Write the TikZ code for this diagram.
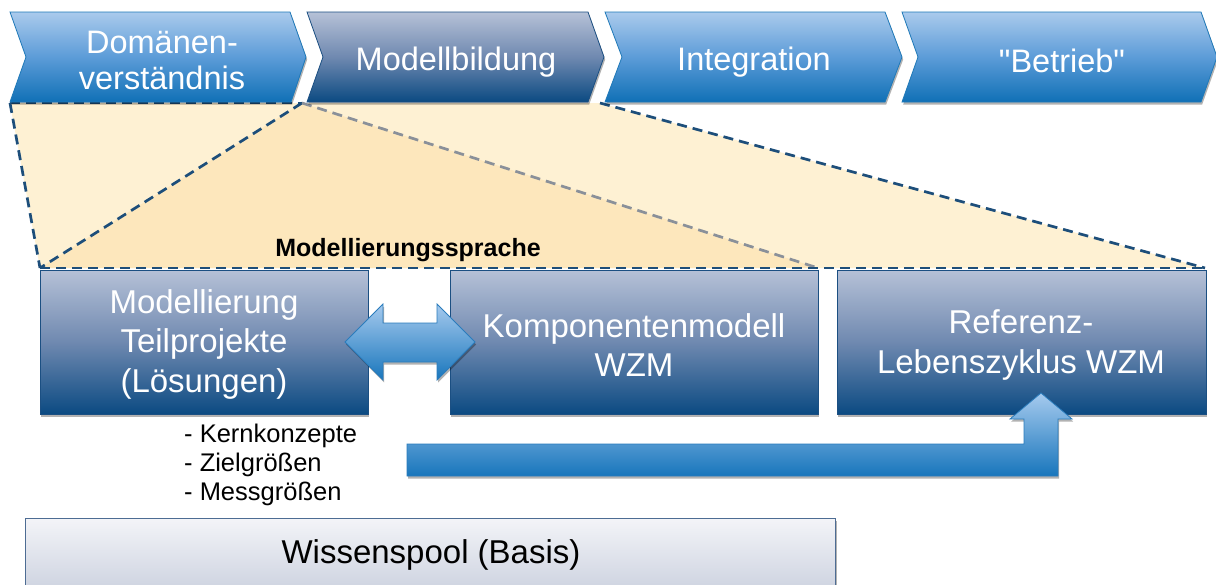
\documentclass[tikz,border=0pt]{standalone}
\usepackage{fontspec}
\setmainfont{Liberation Sans}
\newfontfamily\nomapfont{Liberation Sans}
\usetikzlibrary{shadows}
\definecolor{chevTop}{HTML}{AACAEC}
\definecolor{chevMid}{HTML}{5C9CD8}
\definecolor{chevBot}{HTML}{1070B6}
\definecolor{chevLine}{HTML}{1F79B8}
\definecolor{darkTop}{HTML}{B6C1D7}
\definecolor{darkMid}{HTML}{6F89B0}
\definecolor{darkBot}{HTML}{0B4A82}
\definecolor{darkLine}{HTML}{1B4F82}
\definecolor{yelLight}{HTML}{FEF1D3}
\definecolor{yelDark}{HTML}{FDE7BC}
\definecolor{dashBlue}{HTML}{1D4E7A}
\definecolor{dashGray}{HTML}{8A9099}
\definecolor{arrTop}{HTML}{A6CAEE}
\definecolor{arrBot}{HTML}{1876BC}
\definecolor{arrLine}{HTML}{2A7CBC}
\definecolor{wpTop}{HTML}{F3F4F8}
\definecolor{wpBot}{HTML}{C9CFDD}
\definecolor{wpLine}{HTML}{4D6C93}
\tikzset{
  shad/.style={drop shadow={shadow xshift=1.2pt, shadow yshift=-2.5pt, opacity=0.3, fill=black}},
  chevlight/.style={top color=chevTop, bottom color=chevBot, middle color=chevMid, draw=chevLine, line width=0.8pt, shad},
  chevdark/.style={top color=darkTop, bottom color=darkBot, middle color=darkMid, draw=darkLine, line width=0.8pt, shad},
  chevtext/.style={text=white, font=\fontsize{32.5}{36}\selectfont, align=center, inner sep=0pt},
  boxdark/.style={rectangle, top color=darkTop, bottom color=darkBot, middle color=darkMid, draw=darkLine, line width=0.8pt, shad},
  boxtext/.style={text=white, font=\fontsize{33}{39.5}\selectfont, align=center, inner sep=0pt},
  dashb/.style={draw=dashBlue, line width=2.7pt, dash pattern=on 10pt off 6pt},
  dashg/.style={draw=dashGray, line width=2.7pt, dash pattern=on 10pt off 6pt},
  blockarrow/.style={top color=arrTop, bottom color=arrBot, draw=arrLine, line width=0.8pt, shad},
  listtext/.style={text=black, font=\fontsize{25.5}{29}\selectfont, align=left, inner sep=0pt},
}
\begin{document}
\begin{tikzpicture}[x=1pt,y=-1pt]
\useasboundingbox (0,0) rectangle (1216,584);
\clip (0,0) rectangle (1216,584);
\fill[white] (0,0) rectangle (1216,584);

% callout coordinates
\coordinate (cA) at (10,103);
\coordinate (cB) at (302,103);
\coordinate (cC) at (600,103);
\coordinate (cD) at (1205,268);
\coordinate (cE) at (818,268);
\coordinate (cF) at (40,268);

% yellow zoom region
\fill[yelLight] (cA) -- (cC) -- (cD) -- (cF) -- cycle;
\fill[yelDark] (cB) -- (cE) -- (cF) -- cycle;
\draw[dashb] (cA) -- (cB);
\draw[dashb] (cA) -- (cF);
\draw[dashb] (cB) -- (cF);
\draw[dashg] (cB) -- (cE);
\draw[dashb] (cC) -- (cD);
\draw[dashb] (cF) -- (cD);

% chevrons
\path[chevlight] (10,12) -- (290,12) -- (306,57) -- (291,102) -- (10,102) -- (26,57) -- cycle;
\path[chevdark]  (307,12) -- (588,12) -- (604,57) -- (588,102) -- (307,102) -- (323,57) -- cycle;
\path[chevlight] (605,12) -- (885,12) -- (902,57) -- (885,102) -- (605,102) -- (622,57) -- cycle;
\path[chevlight] (902,12) -- (1201,12) -- (1217,57) -- (1201,102) -- (902,102) -- (918,57) -- cycle;
\node (t1) [chevtext] at (162,60) {Domänen-\\verständnis};
\node (t2) [chevtext] at (456,62) {Modellbildung};
\node (t3) [chevtext] at (754,62) {Integration};
\node (t4) [chevtext] at (1062,61) {\nomapfont "Betrieb"};

% label
\node (ms) [text=black, font=\bfseries\fontsize{25}{28}\selectfont, inner sep=0pt] at (408,250) {Modellierungssprache};

% boxes
\node (b1) [boxdark, minimum width=328pt, minimum height=144pt] at (204,342) {};
\node (b2) [boxdark, minimum width=368pt, minimum height=144pt] at (634,342) {};
\node (b3) [boxdark, minimum width=369pt, minimum height=144pt] at (1021.5,342) {};
\node (b1t) [boxtext] at (204,344) {Modellierung\\Teilprojekte\\(Lösungen)};
\node (b2t) [boxtext] at (634,345) {Komponentenmodell\\WZM};
\node (b3t) [boxtext] at (1021,345) {Referenz-\\Lebenszyklus WZM};

% double arrow between b1 and b2
\path[blockarrow] (345,342) -- (383,304) -- (383,323) -- (437,323) -- (437,304) -- (475,342)
   -- (437,380) -- (437,362) -- (383,362) -- (383,380) -- cycle;

% bent arrow to b3
\path[blockarrow] (407,444) -- (1024,444) -- (1024,419) -- (1010,419) -- (1041,393) -- (1072,419)
   -- (1058,419) -- (1058,476) -- (407,476) -- cycle;

% list
\node (list) [listtext, anchor=west] at (184,465) {- Kernkonzepte\\- Zielgrößen\\- Messgrößen};

% knowledge pool
\node (wp) [rectangle, top color=wpTop, bottom color=wpBot, draw=wpLine, line width=1pt, anchor=north west,
   minimum width=810pt, minimum height=80pt, shad] at (25,518) {};
\node (wpt) [text=black, font=\fontsize{33}{38}\selectfont, inner sep=0pt] at (431,555) {Wissenspool (Basis)};
\end{tikzpicture}
\end{document}
